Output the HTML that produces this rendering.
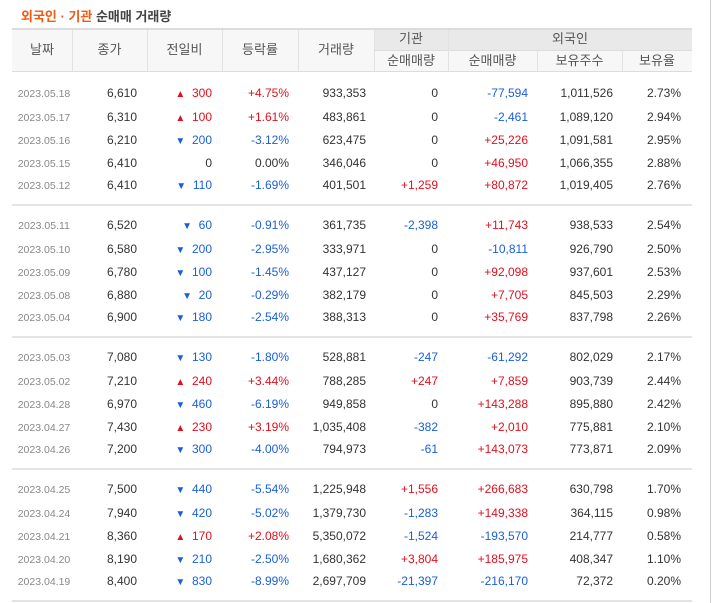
<!DOCTYPE html>
<html><head><meta charset="utf-8"><style>
body{margin:0;width:712px;height:603px;background:#fff;position:relative;overflow:hidden;font-family:"Liberation Sans","Noto Sans CJK KR",sans-serif;}
.a{position:absolute;white-space:nowrap;}
.t{font-size:12px;line-height:14px;}
.h{font-size:13px;color:#555;text-align:center;}
.r{color:#e0101e}.b{color:#1a5fd8}.k{color:#333}
</style></head><body>
<div class="a" style="left:21px;top:6px;font-size:13px;font-weight:bold;color:#444;font-family:'Liberation Sans','Noto Sans CJK KR',sans-serif"><span style="color:#f05a14">외국인 · 기관</span> 순매매 거래량</div>
<div class="a" style="left:710px;top:0;width:1px;height:603px;background:#ccc"></div>
<div id="tbl"></div>
<script>
const dates=["2023.05.18","2023.05.17","2023.05.16","2023.05.15","2023.05.12","2023.05.11","2023.05.10","2023.05.09","2023.05.08","2023.05.04","2023.05.03","2023.05.02","2023.04.28","2023.04.27","2023.04.26","2023.04.25","2023.04.24","2023.04.21","2023.04.20","2023.04.19"];
const closes=["6,610","6,310","6,210","6,410","6,410","6,520","6,580","6,780","6,880","6,900","7,080","7,210","6,970","7,430","7,200","7,500","7,940","8,360","8,190","8,400"];
const changes=[300,100,-200,0,-110,-60,-200,-100,-20,-180,-130,240,-460,230,-300,-440,-420,170,-210,-830];
const rates=["+4.75%","+1.61%","-3.12%","0.00%","-1.69%","-0.91%","-2.95%","-1.45%","-0.29%","-2.54%","-1.80%","+3.44%","-6.19%","+3.19%","-4.00%","-5.54%","-5.02%","+2.08%","-2.50%","-8.99%"];
const volumes=["933,353","483,861","623,475","346,046","401,501","361,735","333,971","437,127","382,179","388,313","528,881","788,285","949,858","1,035,408","794,973","1,225,948","1,379,730","5,350,072","1,680,362","2,697,709"];
const inst=["0","0","0","0","+1,259","-2,398","0","0","0","0","-247","+247","0","-382","-61","+1,556","-1,283","-1,524","+3,804","-21,397"];
const foreign=["-77,594","-2,461","+25,226","+46,950","+80,872","+11,743","-10,811","+92,098","+7,705","+35,769","-61,292","+7,859","+143,288","+2,010","+143,073","+266,683","+149,338","-193,570","+185,975","-216,170"];
const holdings=["1,011,526","1,089,120","1,091,581","1,066,355","1,019,405","938,533","926,790","937,601","845,503","837,798","802,029","903,739","895,880","775,881","773,871","630,798","364,115","214,777","408,347","72,372"];
const ratios=["2.73%","2.94%","2.95%","2.88%","2.76%","2.54%","2.50%","2.53%","2.29%","2.26%","2.17%","2.44%","2.42%","2.10%","2.09%","1.70%","0.98%","0.58%","1.10%","0.20%"];
const T=document.getElementById('tbl');
function box(x,y,w,h,bg,name){const d=document.createElement('div');d.className='a';


d.style.cssText=`left:${x}px;top:${y}px;width:${w}px;height:${h}px;background:${bg}`;T.appendChild(d);return d;}
function txt(x,y,w,s,cls,align,name){const d=document.createElement('div');d.className='a t '+cls;


d.style.cssText=`left:${x}px;top:${y}px;width:${w}px;text-align:${align}`;d.textContent=s;T.appendChild(d);return d;}
const L=12,R=692;
box(L,28,R-L,44,'#f7f7f7','header-bg');
box(374,29,R-374,21,'#e9e9e9','header-group-bg');
box(L,28,R-L,2,'#dcdcdc','header-top-border');
box(374,50,R-374,1,'#dcdcdc','header-mid-border');
box(L,71,R-L,1,'#dcdcdc','header-bottom-border');
[72,147,222,298,374,448].forEach(x=>box(x,30,1,41,'#e2e2e2','col-divider'));
[537,622].forEach(x=>box(x,51,1,20,'#e2e2e2','col-divider'));
const heads=[["날짜",12,60],["종가",72,75],["전일비",147,75],["등락률",222,76],["거래량",298,76]];
heads.forEach(h=>{txt(h[1],43,h[2],h[0],'h','center','header-'+h[0]);});
txt(374,32,74,"기관",'h','center','header-institution');
txt(448,32,244,"외국인",'h','center','header-foreign');
txt(374,54,74,"순매매량",'h','center','header-inst-net');
txt(448,54,89,"순매매량",'h','center','header-foreign-net');
txt(537,54,85,"보유주수",'h','center','header-holdings');
txt(622,54,70,"보유율",'h','center','header-ratio');
const rowY=[86,110,133,156,178];
const groupOff=[0,132,264,396];
const sign=s=>s.startsWith('+')?'r':(s.startsWith('-')?'b':'k');
for(let i=0;i<dates.length;i++){
 const g=Math.floor(i/5),y=groupOff[g]+rowY[i%5];
 const d=txt(12,y+1,60,dates[i],'','center','date-cell');d.style.fontSize='10.5px';d.style.color='#888';d.style.paddingLeft='2px';
 txt(72,y,65,closes[i],'k','right','close-cell');
 const c=changes[i];
 const cc=c>0?'r':(c<0?'b':'k');
 const ar=c>0?'▲':(c<0?'▼':'');
 const cd=txt(147,y,65,'','','right','change-cell');
 cd.innerHTML=`<span class="${cc}" style="font-size:10px">${ar}</span><span class="${c===0?'k':cc}">&nbsp;&nbsp;${Math.abs(c)}</span>`;
 txt(222,y,67,rates[i],sign(rates[i]),'right','rate-cell');
 txt(298,y,68,volumes[i],'k','right','volume-cell');
 txt(374,y,64,inst[i],sign(inst[i]),'right','inst-net-cell');
 txt(448,y,80,foreign[i],sign(foreign[i]),'right','foreign-net-cell');
 txt(537,y,76,holdings[i],'k','right','holdings-cell');
 txt(622,y,59,ratios[i],'k','right','ratio-cell');
}
[204,336,468,600].forEach(y=>box(L,y,R-L,2,'#e4e4e4','group-separator'));
</script>
</body></html>
